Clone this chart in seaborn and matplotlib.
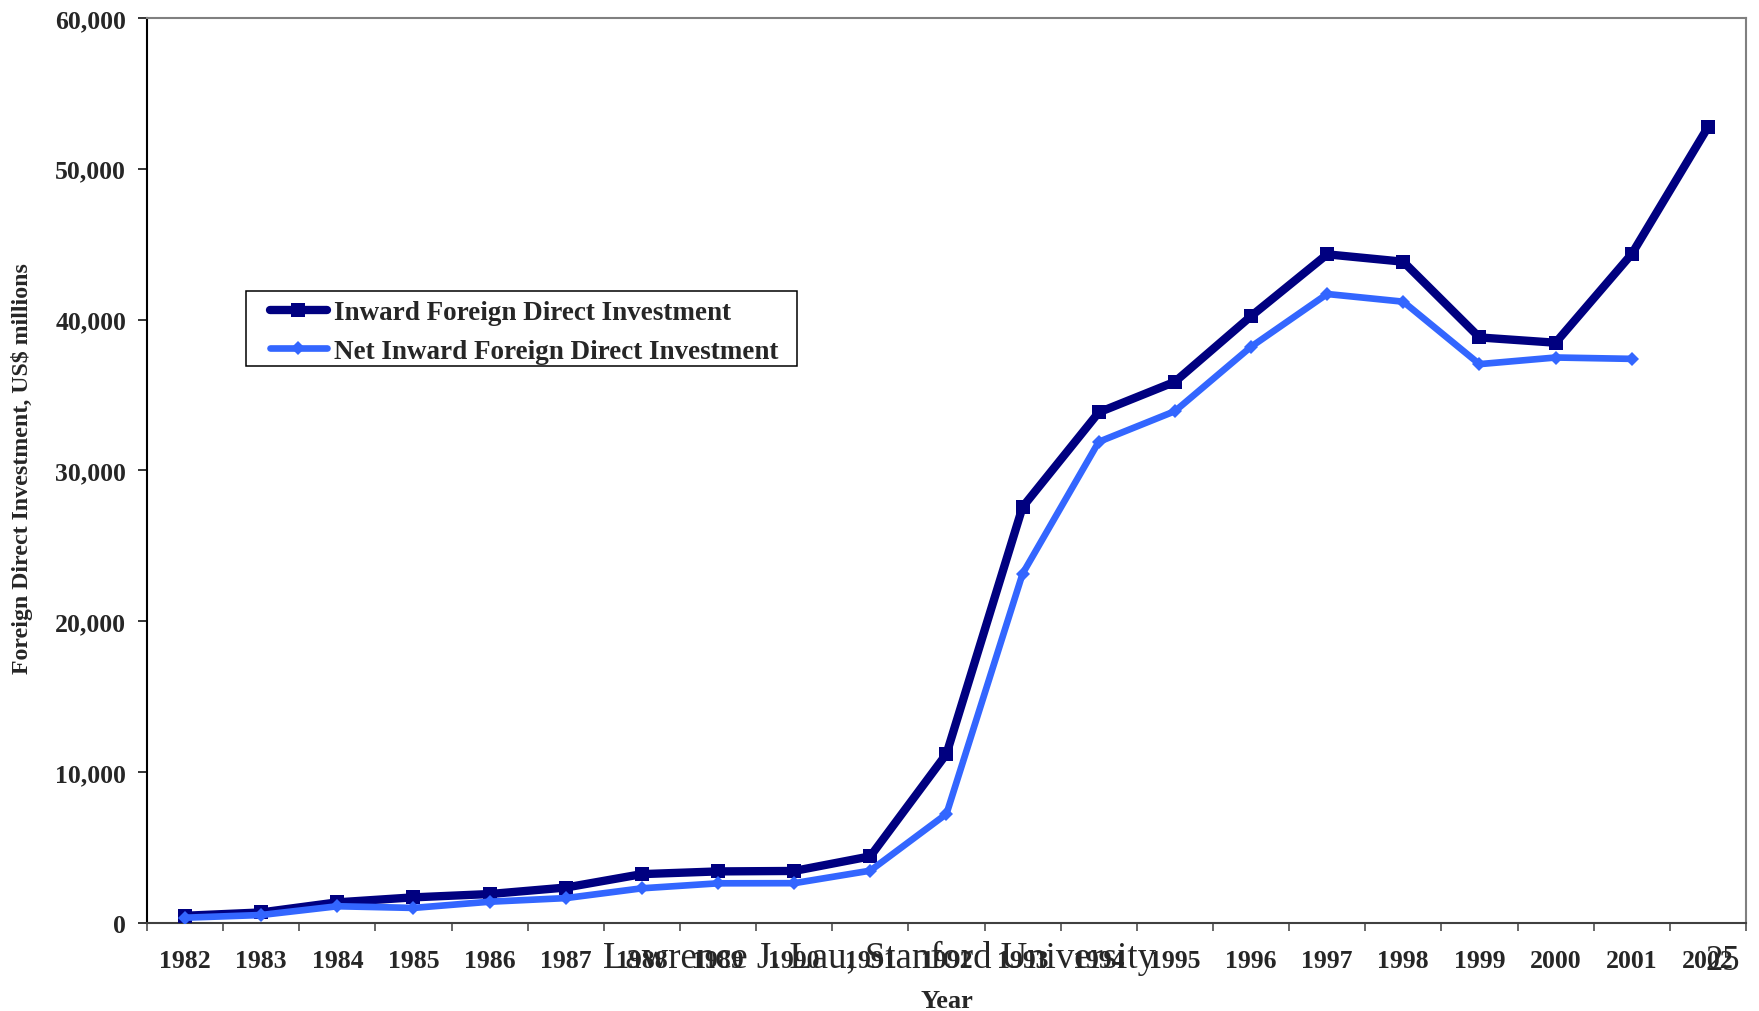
import matplotlib
matplotlib.use("Agg")
import matplotlib.pyplot as plt
import seaborn as sns
import numpy as np
from matplotlib.ticker import FuncFormatter, FixedLocator
from matplotlib.patches import Rectangle

# Foreign direct investment into China, US$ millions
years = list(range(1982, 2003))
inward_fdi = [480, 700, 1370, 1700, 1920, 2350, 3240, 3420, 3450, 4420,
              11210, 27580, 33850, 35880, 40230, 44330, 43840, 38820,
              38470, 44350, 52750]
net_years = list(range(1982, 2002))
net_inward_fdi = [350, 530, 1110, 1000, 1410, 1650, 2300, 2630, 2640, 3470,
                  7230, 23160, 31900, 33930, 38200, 41700, 41190, 37050,
                  37490, 37400]

label_inward = "Inward Foreign Direct Investment"
label_net = "Net Inward Foreign Direct Investment"
y_ticks = list(range(0, 60001, 10000))

sns.set_style("ticks")
plt.rcParams["font.family"] = ["Liberation Serif", "DejaVu Serif"]
plt.rcParams["font.weight"] = "bold"

fig = plt.figure(figsize=(17.59, 10.12), dpi=100)
ax = fig.add_axes([0.08357, 0.08696, 0.9090, 0.8943])

sns.lineplot(x=years, y=inward_fdi, ax=ax, color="#000080", linewidth=6,
             marker="s", markersize=10.5, markeredgewidth=0,
             label=label_inward, zorder=3)
sns.lineplot(x=net_years, y=net_inward_fdi, ax=ax, color="#3366FF",
             linewidth=4.8, marker="D", markersize=7.5, markeredgewidth=0,
             label=label_net, zorder=4)

ax.set_xlim(1981.5, 2002.5)
ax.set_ylim(0, 60000)
ax.set_xticks(years)
ax.set_xticklabels([str(y) for y in years])
ax.xaxis.set_minor_locator(FixedLocator(np.arange(1981.5, 2003, 1.0)))
ax.tick_params(axis="x", which="major", length=0, pad=18.4, labelsize=18.5)
ax.tick_params(axis="x", which="minor", length=5.8, width=1.1,
               direction="out", color="#404040")
ax.set_yticks(y_ticks)
ax.yaxis.set_major_formatter(FuncFormatter(lambda v, p: f"{int(v):,}"))
ax.tick_params(axis="y", length=6.5, width=1.1, direction="out", pad=8.6,
               labelsize=18.5, color="black")

for side in ["top", "right"]:
    ax.spines[side].set_color("#808080")
    ax.spines[side].set_linewidth(1.5)
ax.spines["left"].set_color("black")
ax.spines["left"].set_linewidth(1.5)
ax.spines["bottom"].set_color("#404040")
ax.spines["bottom"].set_linewidth(1.5)

ax.set_xlabel("Year", fontsize=19, fontweight="bold")
ax.xaxis.set_label_coords(0.5, -0.073)
ax.set_ylabel("Foreign Direct Investment, US$ millions", fontsize=17.2,
              fontweight="bold")
ax.yaxis.set_label_coords(-0.0713, 0.5028)

leg = ax.legend(loc="upper left", bbox_to_anchor=(0.0769, 0.688),
                frameon=False, borderpad=0, borderaxespad=0,
                handlelength=2.1, handletextpad=0.25, labelspacing=0.5,
                prop={"family": "Liberation Serif", "weight": "bold",
                      "size": 19.5})
ax.add_patch(Rectangle((0.0619, 0.6155), 0.3446, 0.0828,
                       transform=ax.transAxes, fill=False,
                       edgecolor="black", linewidth=1.1, zorder=5))

fig.text(880 / 1759, 1 - 968 / 1012, "Lawrence J. Lau, Stanford University",
         ha="center", va="baseline", fontsize=26.5, fontweight="normal")
fig.text(1723 / 1759, 1 - 970 / 1012, "25", ha="center", va="baseline",
         fontsize=25, fontweight="normal")

fig.savefig("out.png", dpi=100)
